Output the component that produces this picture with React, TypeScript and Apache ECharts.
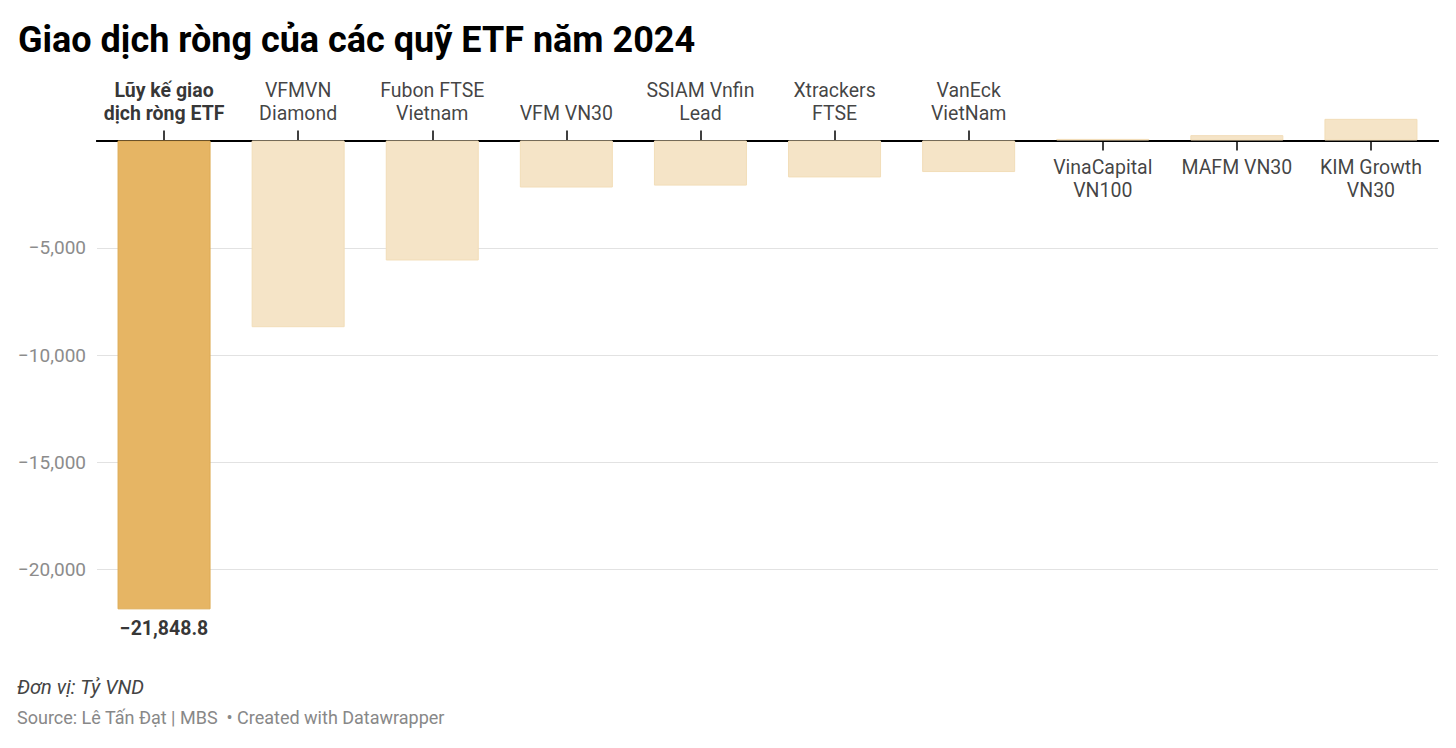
import React, { useEffect, useRef } from "react";
import * as echarts from "echarts";

const categories = [
  "Lũy kế giao\ndịch ròng ETF",
  "VFMVN\nDiamond",
  "Fubon FTSE\nVietnam",
  "VFM VN30",
  "SSIAM Vnfin\nLead",
  "Xtrackers\nFTSE",
  "VanEck\nVietNam",
  "VinaCapital\nVN100",
  "MAFM VN30",
  "KIM Growth\nVN30",
];
const values = [-21848.8, -8700, -5590, -2190, -2100, -1720, -1470, 75, 250, 1010];
const yTicks = [-20000, -15000, -10000, -5000];

const TITLE = "Giao dịch ròng của các quỹ ETF năm 2024";
const UNIT = "Đơn vị: Tỷ VND";
const SOURCE = "Source: Lê Tấn Đạt | MBS  • Created with Datawrapper";

const FONT = "Roboto";
const minus = (v: number, frac = 0) =>
  (v < 0 ? "\u2212" : "") +
  Math.abs(v).toLocaleString("en-US", { minimumFractionDigits: frac, maximumFractionDigits: frac });

export default function App() {
  const ref = useRef<HTMLDivElement>(null);
  useEffect(() => {
    document.body.style.margin = "0";
    const chart = echarts.init(ref.current!, null, { renderer: "svg" });
    const catLabel = (name: string, idx: number) =>
      idx === 0 ? name.split("\n").map((l) => `{b|${l}}`).join("\n") : name;
    const labelStyle = {
      show: true,
      fontFamily: FONT,
      fontSize: 19.5,
      color: "#111",
      lineHeight: 23,
      rich: { b: { fontFamily: FONT, fontSize: 19.5, fontWeight: "bold", color: "#000", lineHeight: 23 } },
    };
    const tickAxis = (pos: string, show: (i: number) => boolean) => ({
      type: "category",
      data: categories,
      position: pos,
      axisLine: { show: true, onZero: true, onZeroAxisIndex: 0, lineStyle: { color: "#000", width: 2 } },
      axisTick: {
        show: true,
        alignWithLabel: true,
        length: 10,
        lineStyle: { color: "#000", width: 1.5 },
        interval: show,
      },
      axisLabel: { show: false },
    });
    chart.setOption({
      animation: false,
      title: {
        text: TITLE,
        left: 13,
        top: 17,
        textStyle: { fontFamily: FONT, fontSize: 36, fontWeight: "bold", color: "#000" },
      },
      grid: { left: 97, right: 18, top: 97.6, bottom: 135.4, containLabel: false },
      xAxis: [tickAxis("top", (i) => values[i] < 0), tickAxis("bottom", (i) => values[i] >= 0)],
      yAxis: {
        type: "value",
        min: -22000,
        max: 2000,
        splitNumber: 5,
        axisLine: { show: false },
        axisTick: { show: false },
        axisLabel: {
          showMinLabel: false,
          showMaxLabel: false,
          margin: 11,
          fontFamily: FONT,
          fontSize: 19,
          color: "#8c8c8c",
          formatter: (v: number) => (yTicks.includes(v) ? minus(v) : ""),
        },
        splitLine: { show: true, showMinLine: false, showMaxLine: false, lineStyle: { color: "#e2e2e2", width: 1 } },
      },
      series: [
        {
          type: "bar",
          xAxisIndex: 0,
          barWidth: 93,
          data: values.map((v, i) => ({
            value: v,
            itemStyle:
              i === 0
                ? { color: "#e6b564", borderColor: "#ddab55", borderWidth: 1 }
                : { color: "#f5e4c7", borderColor: "#f2ddb8", borderWidth: 1 },
          })),
        },
        {
          type: "scatter",
          xAxisIndex: 0,
          symbolSize: 0,
          silent: true,
          data: values.map((v, i) => (v < 0 ? [i, 0] : null)).filter((d) => d),
          label: {
            ...labelStyle,
            position: "top",
            distance: 16,
            formatter: (p: any) => catLabel(categories[p.value[0]], p.value[0]),
          },
        },
        {
          type: "scatter",
          xAxisIndex: 0,
          symbolSize: 0,
          silent: true,
          data: values.map((v, i) => (v >= 0 ? [i, 0] : null)).filter((d) => d),
          label: {
            ...labelStyle,
            position: "bottom",
            distance: 15,
            formatter: (p: any) => catLabel(categories[p.value[0]], p.value[0]),
          },
        },
        {
          type: "scatter",
          xAxisIndex: 0,
          symbolSize: 0,
          silent: true,
          data: [[0, values[0]]],
          label: {
            show: true,
            position: "bottom",
            distance: 9,
            fontFamily: FONT,
            fontSize: 19.5,
            fontWeight: "bold",
            color: "#000",
            formatter: (p: any) => minus(p.value[1], 1),
          },
        },
      ],
      graphic: [
        {
          type: "text",
          left: 17,
          top: 677,
          style: { text: UNIT, fontFamily: FONT, fontSize: 20, fontStyle: "italic", fill: "#444" },
        },
        {
          type: "text",
          left: 17,
          top: 708,
          style: { text: SOURCE, fontFamily: FONT, fontSize: 18, fill: "#888" },
        },
      ],
    });
    return () => chart.dispose();
  }, []);
  return <div ref={ref} style={{ width: 1456, height: 748 }} />;
}
